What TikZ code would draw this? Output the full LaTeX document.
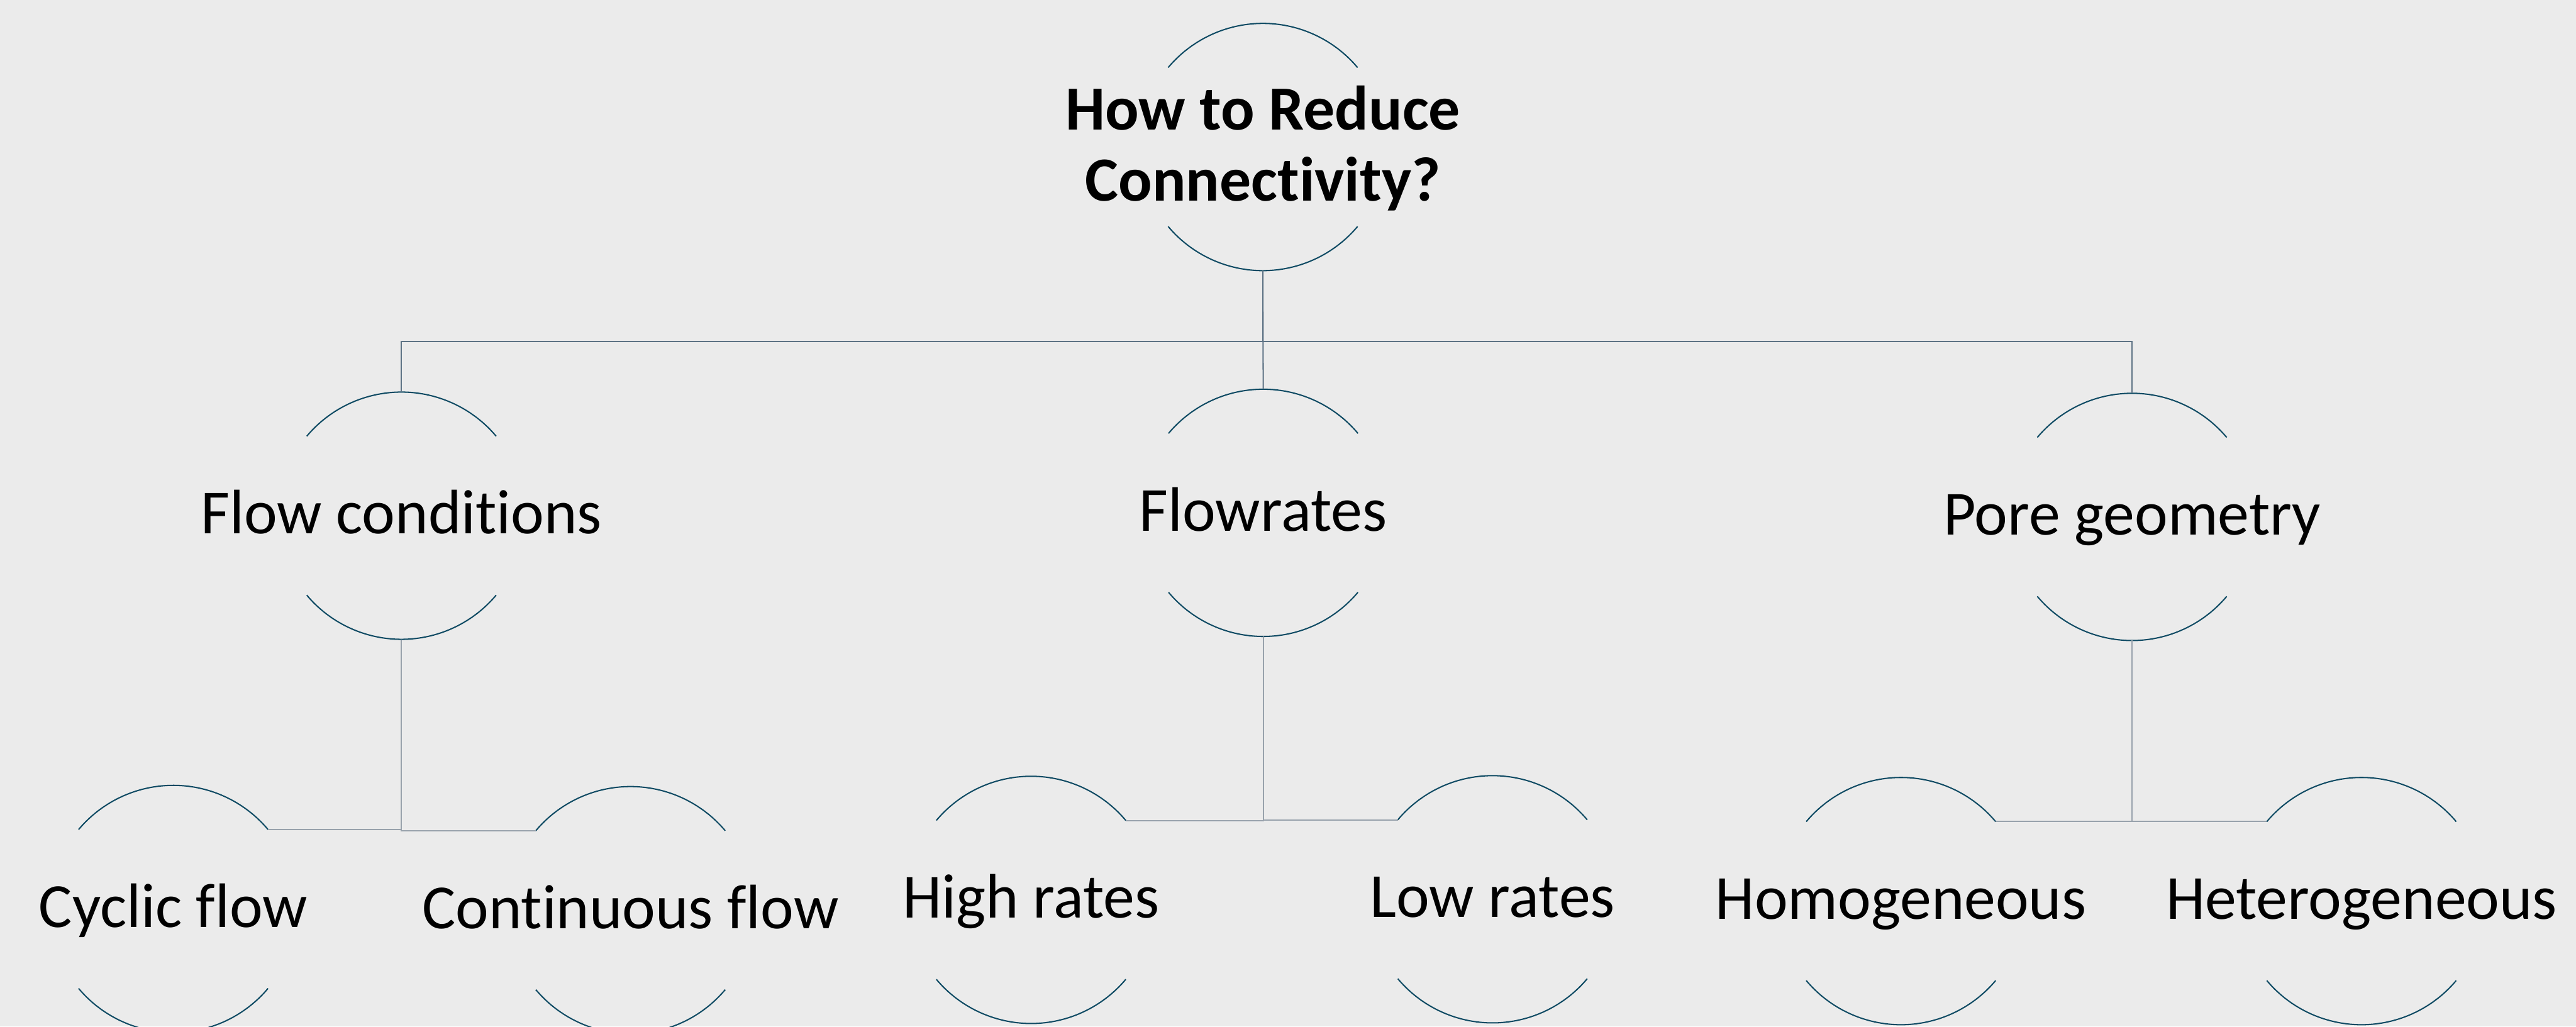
\documentclass[tikz,border=0pt]{standalone}
\usepackage{fontspec}
\setmainfont{Carlito}[Ligatures=NoCommon]
\usetikzlibrary{calc}
\definecolor{paper}{HTML}{EBEBEB}
\definecolor{rimblue}{HTML}{0E4A63}
\definecolor{busgrey}{HTML}{5E7385}
\definecolor{twiggrey}{HTML}{98A2AC}
\newcommand{\bubr}{2.04}

\begin{document}
\begin{tikzpicture}[
  bubble/.style={rectangle,inner sep=0pt,outer sep=0pt,
    minimum width=4.08cm,minimum height=4.08cm,align=center,
    font=\fontsize{29.5}{33.4}\selectfont,
    text height=23.6pt,text depth=6.5pt},
  rim/.style={line width=.6pt,draw=rimblue},
  link/.style={line width=.6pt,draw=busgrey},
  twig/.style={line width=.6pt,draw=twiggrey}]

  \fill[paper] (0,0) rectangle (42.51,-16.94);
  \useasboundingbox (0,0) rectangle (42.51,-16.94);

  \node[bubble,font=\fontsize{29.5}{33.4}\selectfont\bfseries,
    text height=57pt] (root) at (20.84,-2.426)
    {How to Reduce\\Connectivity?};
  \node[bubble] (fc) at (6.625,-8.51) {Flow conditions};
  \node[bubble] (fr) at (20.846,-8.463) {Flowrates};
  \node[bubble] (pg) at (35.183,-8.53) {Pore geometry};
  \node[bubble] (cy) at (2.86,-15.00) {Cyclic flow};
  \node[bubble] (co) at (10.405,-15.02) {Continuous flow};
  \node[bubble] (hi) at (17.015,-14.85) {High rates};
  \node[bubble] (lo) at (24.63,-14.84) {Low rates};
  \node[bubble] (ho) at (31.37,-14.87) {Homogeneous};
  \node[bubble] (he) at (38.97,-14.87) {Heterogeneous};

  % open circles: one arc above, one below each label
  \foreach \n in {root,fc,fr,pg,cy,co,hi,lo,ho,he} {
    \draw[rim] (\n.center) ++(40:\bubr)
      arc[start angle=40,end angle=140,radius=\bubr];
    \draw[rim] (\n.center) ++(220:\bubr)
      arc[start angle=220,end angle=320,radius=\bubr];
    \coordinate (\n-nw) at ($(\n.center)+(140:\bubr)$);
    \coordinate (\n-ne) at ($(\n.center)+(40:\bubr)$);
  }

  \draw[link] (root.south) -- ++(0,-1.165) -| (fc.north);
  \draw[link] (root.south) -- ++(0,-1.165) -| (pg.north);
  \draw[link] (root.south) -- (fr.north);

  \draw[twig] (fc.south) |- (cy-ne);
  \draw[twig] (fc.south) |- (co-nw);
  \draw[twig] (fr.south) |- (hi-ne);
  \draw[twig] (fr.south) |- (lo-nw);
  \draw[twig] (pg.south) |- (ho-ne);
  \draw[twig] (pg.south) |- (he-nw);
\end{tikzpicture}
\end{document}
